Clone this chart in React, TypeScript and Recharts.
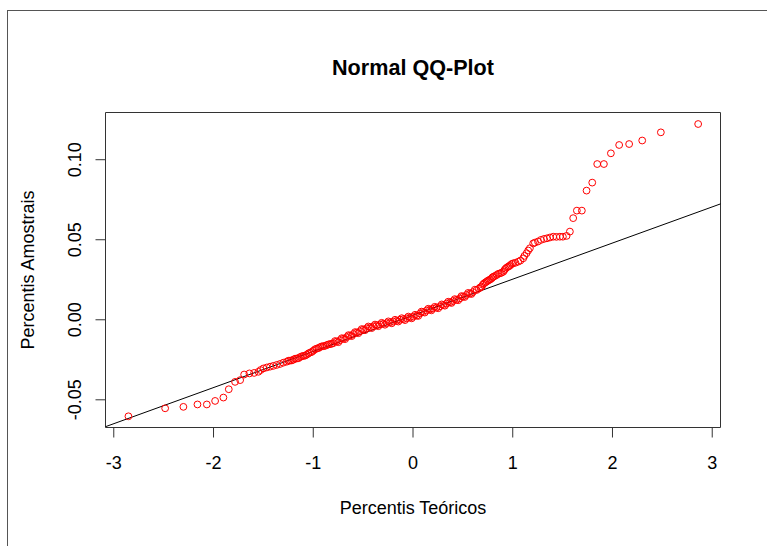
import { ScatterChart, Scatter, XAxis, YAxis, ReferenceArea, ReferenceLine } from 'recharts';

const FONT = '"Liberation Sans", Arial, sans-serif';

const X_TICKS = [-3, -2, -1, 0, 1, 2, 3];
const Y_TICKS = [-0.05, 0, 0.05, 0.1];
const X_DOMAIN = [-3.083, 3.083];
const Y_DOMAIN = [-0.0673, 0.1295];

// qqline endpoints, read at the edges of the plot box
const QQ_LINE_X = [-3.083, 3.083];
const QQ_LINE_Y = [-0.0668, 0.0724];

// [theoretical quantile, sample quantile]
const lowerTail: [number, number][] = [
  [-2.853, -0.0603], [-2.485, -0.0553], [-2.302, -0.0544], [-2.161, -0.0529],
  [-2.067, -0.0529], [-1.984, -0.0507], [-1.901, -0.0486], [-1.847, -0.0434],
  [-1.784, -0.0388], [-1.733, -0.0377], [-1.693, -0.0342], [-1.64, -0.0335],
  [-1.593, -0.0332], [-1.55, -0.0325],
];

const lowerBody: [number, number][] = [
  [-1.528, -0.0314], [-1.5, -0.0304], [-1.466, -0.0298], [-1.433, -0.0293],
  [-1.4, -0.0288], [-1.366, -0.0282], [-1.333, -0.0276], [-1.3, -0.0268],
  [-1.266, -0.0262], [-1.249, -0.0256], [-1.232, -0.0255], [-1.215, -0.0254],
  [-1.199, -0.0249], [-1.182, -0.0243], [-1.165, -0.0242], [-1.148, -0.024],
  [-1.132, -0.0233], [-1.115, -0.0228], [-1.099, -0.0226], [-1.082, -0.0224],
  [-1.065, -0.0218], [-1.048, -0.021], [-1.032, -0.0205], [-1.015, -0.0201],
  [-0.999, -0.0193], [-0.982, -0.0184], [-0.965, -0.018], [-0.948, -0.0177],
  [-0.932, -0.0171], [-0.915, -0.0166], [-0.899, -0.0165], [-0.882, -0.0163],
  [-0.865, -0.0158], [-0.848, -0.0154], [-0.832, -0.0152], [-0.815, -0.015],
];

const centerBody: [number, number][] = [
  [-0.799, -0.0146], [-0.782, -0.0133], [-0.765, -0.0136], [-0.748, -0.014],
  [-0.731, -0.0127], [-0.714, -0.0115], [-0.698, -0.0118], [-0.681, -0.0121],
  [-0.664, -0.0108], [-0.647, -0.0096], [-0.631, -0.0099], [-0.614, -0.0102],
  [-0.598, -0.0089], [-0.581, -0.0077], [-0.564, -0.008], [-0.548, -0.0084],
  [-0.531, -0.0071], [-0.514, -0.0058], [-0.498, -0.0061], [-0.481, -0.0065],
  [-0.464, -0.0053], [-0.448, -0.0042], [-0.431, -0.0047], [-0.414, -0.0052],
  [-0.398, -0.0041], [-0.381, -0.003], [-0.364, -0.0035], [-0.347, -0.004],
  [-0.331, -0.0029], [-0.314, -0.0019], [-0.298, -0.0025], [-0.281, -0.0031],
  [-0.264, -0.0021], [-0.247, -0.001], [-0.23, -0.0016], [-0.213, -0.0022],
  [-0.197, -0.0011], [-0.18, 0.0], [-0.163, -0.0006], [-0.147, -0.0011],
  [-0.13, 0.0], [-0.113, 0.001], [-0.097, 0.0004], [-0.08, -0.0002],
  [-0.063, 0.0009], [-0.047, 0.002], [-0.03, 0.0014], [-0.013, 0.0009],
  [0.003, 0.002], [0.02, 0.0031], [0.037, 0.0026], [0.053, 0.0024],
  [0.07, 0.0039], [0.085, 0.0051], [0.1, 0.0048], [0.118, 0.0045],
  [0.137, 0.0058], [0.153, 0.0069], [0.17, 0.0064], [0.185, 0.0059],
  [0.2, 0.007], [0.218, 0.0081], [0.235, 0.0076], [0.253, 0.0072],
  [0.271, 0.0084], [0.288, 0.0096], [0.304, 0.0092], [0.32, 0.0088],
  [0.336, 0.0101], [0.353, 0.0113], [0.371, 0.0109], [0.386, 0.0105],
  [0.401, 0.0117], [0.418, 0.0129], [0.436, 0.0125], [0.453, 0.0122],
  [0.471, 0.0134], [0.486, 0.0148], [0.501, 0.0145], [0.518, 0.0142],
  [0.536, 0.0155], [0.553, 0.0168], [0.571, 0.0164], [0.586, 0.0161],
  [0.601, 0.0173], [0.62, 0.0188], [0.638, 0.0186],
];

const upperBody: [number, number][] = [
  [0.661, 0.0195], [0.675, 0.0203], [0.688, 0.0207], [0.7, 0.0219],
  [0.711, 0.0227], [0.725, 0.0233], [0.738, 0.0238], [0.75, 0.0244],
  [0.762, 0.0248], [0.775, 0.0252], [0.789, 0.0259], [0.798, 0.0266],
  [0.807, 0.0269], [0.823, 0.0274], [0.839, 0.028], [0.855, 0.0287],
  [0.872, 0.029], [0.888, 0.0294], [0.905, 0.03], [0.916, 0.031],
  [0.927, 0.0319], [0.941, 0.0327], [0.955, 0.0332], [0.966, 0.0336],
  [0.977, 0.0342], [0.991, 0.0349], [1.005, 0.0353], [1.027, 0.0356],
  [1.055, 0.0363], [1.077, 0.037], [1.105, 0.0384], [1.117, 0.0399],
  [1.139, 0.0416], [1.155, 0.0433], [1.172, 0.0447], [1.205, 0.0477],
  [1.222, 0.0482], [1.253, 0.0489], [1.283, 0.0499], [1.313, 0.0505],
  [1.343, 0.0509], [1.373, 0.0514], [1.406, 0.0519], [1.438, 0.0518],
  [1.473, 0.0519], [1.503, 0.0519], [1.54, 0.0524],
];

const upperTail: [number, number][] = [
  [1.573, 0.0551], [1.606, 0.0635], [1.643, 0.0682], [1.693, 0.0682],
  [1.74, 0.0807], [1.797, 0.0857], [1.847, 0.0973], [1.914, 0.0973],
  [1.984, 0.104], [2.067, 0.1092], [2.167, 0.1098], [2.298, 0.112],
  [2.485, 0.1171], [2.859, 0.1223],
];

const points = [...lowerTail, ...lowerBody, ...centerBody, ...upperBody, ...upperTail].map(
  ([x, y]) => ({ x, y })
);

const Ring = (props: any) => (
  <circle cx={props.cx} cy={props.cy} r={3.4} fill="none" stroke="#ff0000" strokeWidth={1} />
);

const XTick = (props: any) => (
  <text x={props.x} y={props.y} dy={31} textAnchor="middle" fontSize={18} fontFamily={FONT} fill="#000">
    {props.payload.value}
  </text>
);

const YTick = (props: any) => (
  <text
    transform={`translate(${props.x - 15},${props.y}) rotate(-90)`}
    textAnchor="middle"
    fontSize={18}
    fontFamily={FONT}
    fill="#000"
  >
    {Number(props.payload.value).toFixed(2)}
  </text>
);

export default function App() {
  return (
    <div style={{ position: 'absolute', left: 0, top: 0, width: 767, height: 546, background: '#fff' }}>
      <div
        style={{
          position: 'absolute',
          left: 7,
          top: 10,
          right: 0,
          bottom: 0,
          borderLeft: '1px solid #555',
          borderTop: '1px solid #555',
        }}
      />
      <div
        style={{
          position: 'absolute',
          left: 0,
          top: 57,
          width: 826,
          textAlign: 'center',
          fontFamily: FONT,
          fontWeight: 'bold',
          fontSize: 21.6,
          lineHeight: '22px',
        }}
      >
        Normal QQ-Plot
      </div>
      <ScatterChart
        width={767}
        height={546}
        margin={{ top: 112.5, right: 46.5, bottom: 38.5, left: 0.5 }}
        style={{ position: 'absolute', left: 0, top: 0 }}
      >
        <XAxis
          type="number"
          dataKey="x"
          domain={X_DOMAIN}
          ticks={X_TICKS}
          interval={0}
          allowDataOverflow
          height={80}
          axisLine={false}
          tickLine={{ stroke: '#333' }}
          tickSize={10}
          tickMargin={0}
          tick={XTick}
          label={(p: any) => (
            <text
              x={p.viewBox.x + p.viewBox.width / 2}
              y={p.viewBox.y + 86}
              textAnchor="middle"
              fontSize={18}
              fontFamily={FONT}
              fill="#000"
            >
              Percentis Teóricos
            </text>
          )}
        />
        <YAxis
          type="number"
          dataKey="y"
          domain={Y_DOMAIN}
          ticks={Y_TICKS}
          interval={0}
          allowDataOverflow
          width={105}
          axisLine={false}
          tickLine={{ stroke: '#333' }}
          tickSize={10}
          tickMargin={0}
          tick={YTick}
          label={(p: any) => (
            <text
              transform={`translate(${p.viewBox.x + 33},${p.viewBox.y + p.viewBox.height / 2}) rotate(-90)`}
              textAnchor="middle"
              fontSize={18}
              fontFamily={FONT}
              fill="#000"
            >
              Percentis Amostrais
            </text>
          )}
        />
        <ReferenceArea
          x1={X_DOMAIN[0]}
          x2={X_DOMAIN[1]}
          y1={Y_DOMAIN[0]}
          y2={Y_DOMAIN[1]}
          fill="none"
          stroke="#333"
          strokeWidth={1}
          ifOverflow="visible"
        />
        <Scatter data={points} shape={Ring} isAnimationActive={false} />
        <ReferenceLine
          segment={[
            { x: QQ_LINE_X[0], y: QQ_LINE_Y[0] },
            { x: QQ_LINE_X[1], y: QQ_LINE_Y[1] },
          ]}
          stroke="#000"
          strokeWidth={1}
          ifOverflow="visible"
        />
      </ScatterChart>
    </div>
  );
}
